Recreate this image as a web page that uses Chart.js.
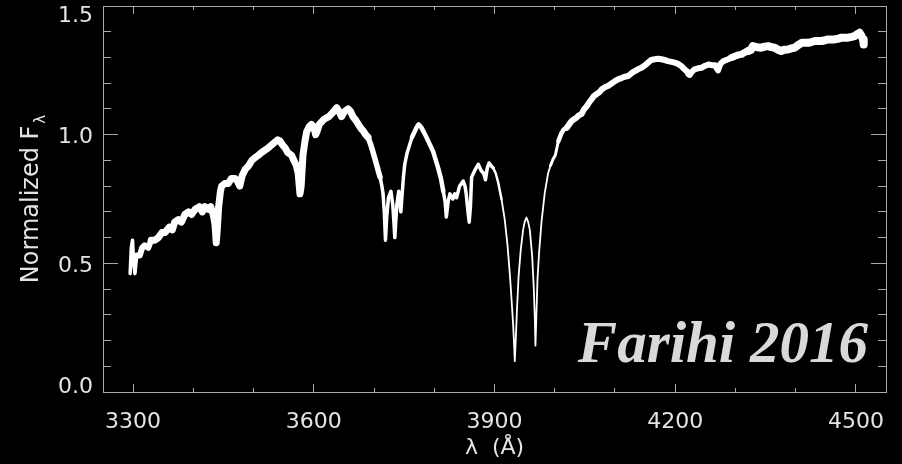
<!DOCTYPE html>
<html>
<head>
<meta charset="utf-8">
<script src="https://cdn.jsdelivr.net/npm/chart.js@4/dist/chart.umd.min.js"></script>
<style>
  html, body { margin: 0; padding: 0; background: #000; }
  canvas { display: block; }
</style>
</head>
<body>
<canvas id="spec" width="902" height="464"></canvas>
<script>
// Normalized spectrum, wavelength in Angstrom
const wavelength = [
  3295, 3297, 3299, 3301, 3303, 3306, 3311, 3315, 3319, 3325, 3330, 3336, 3342, 3348, 3353, 3360,
  3365, 3369, 3375, 3380, 3386, 3392, 3397, 3403, 3410, 3415, 3419, 3425, 3429, 3433, 3436, 3438,
  3440, 3442, 3445, 3447, 3452, 3458, 3463, 3469, 3473, 3477, 3481, 3486, 3492, 3497, 3502, 3508,
  3513, 3519, 3525, 3530, 3535, 3540, 3544, 3548, 3552, 3557, 3563, 3567, 3571, 3574, 3577, 3579,
  3582, 3585, 3588, 3592, 3596, 3600, 3603, 3605, 3609, 3613, 3617, 3621, 3625, 3629, 3633, 3638,
  3642, 3646, 3651, 3657, 3661, 3665, 3670, 3674, 3678, 3682, 3686, 3690, 3694, 3698, 3701, 3704,
  3707, 3710, 3713, 3715, 3717, 3719, 3721, 3724, 3728, 3731, 3733, 3734.5, 3736, 3738, 3741, 3744.5,
  3747, 3749, 3751, 3755, 3759, 3763, 3768, 3771, 3774, 3778, 3781.5, 3786, 3790, 3794, 3798, 3802,
  3806.5, 3811, 3815, 3818, 3820, 3823, 3826, 3831, 3834, 3837, 3842, 3848, 3851, 3853, 3856, 3858,
  3860, 3862, 3867, 3873, 3878, 3882, 3885, 3888, 3891, 3894, 3898, 3902, 3906, 3911.6, 3917, 3921.6,
  3925.4, 3928, 3931, 3932.6, 3933.7, 3935.3, 3937.5, 3940, 3943.7, 3947.5, 3950, 3953, 3956, 3958.6, 3962.5, 3965.3,
  3967, 3968, 3969.7, 3971.4, 3974, 3978, 3983.5, 3989, 3993, 3997.3, 4001, 4006, 4011, 4015, 4020, 4024,
  4028, 4032, 4036, 4040, 4044.5, 4049, 4053, 4057, 4061, 4065, 4069, 4074, 4078, 4084, 4089, 4095,
  4100, 4105, 4111, 4116, 4122, 4128, 4133, 4139, 4144, 4150, 4155, 4160, 4166, 4172, 4177, 4183,
  4188, 4194, 4199, 4205, 4210, 4215, 4219, 4222, 4224, 4228, 4232, 4238, 4243.6, 4250, 4255, 4260,
  4266, 4271, 4275, 4280, 4288, 4294, 4299, 4305, 4310, 4316, 4321, 4326, 4329, 4336, 4343, 4349,
  4354, 4360, 4365, 4371, 4376, 4381, 4387, 4393, 4398.6, 4404, 4410, 4415, 4421, 4426, 4432, 4437,
  4443, 4449, 4454, 4460, 4465, 4471, 4476, 4482, 4487, 4493, 4498, 4502, 4506, 4509, 4512, 4513
];
const flux = [
  0.46, 0.56, 0.59, 0.50, 0.46, 0.53, 0.53, 0.56, 0.57, 0.56, 0.59, 0.59, 0.60, 0.62, 0.62, 0.64,
  0.63, 0.66, 0.67, 0.66, 0.69, 0.70, 0.69, 0.71, 0.72, 0.70, 0.72, 0.71, 0.72, 0.69, 0.65, 0.58,
  0.64, 0.72, 0.78, 0.80, 0.81, 0.81, 0.83, 0.83, 0.82, 0.80, 0.84, 0.865, 0.88, 0.90, 0.91, 0.92,
  0.93, 0.94, 0.95, 0.96, 0.97, 0.98, 0.975, 0.96, 0.95, 0.93, 0.92, 0.90, 0.88, 0.85, 0.77, 0.80,
  0.92, 0.97, 1.01, 1.03, 1.04, 1.03, 1.00, 1.01, 1.04, 1.05, 1.06, 1.065, 1.07, 1.08, 1.09, 1.105,
  1.09, 1.07, 1.09, 1.10, 1.09, 1.07, 1.055, 1.04, 1.025, 1.015, 1.00, 0.99, 0.965, 0.935, 0.91, 0.885,
  0.86, 0.835, 0.80, 0.77, 0.70, 0.59, 0.68, 0.755, 0.78, 0.73, 0.66, 0.60, 0.66, 0.73, 0.78, 0.70,
  0.78, 0.84, 0.885, 0.93, 0.96, 0.99, 1.015, 1.03, 1.04, 1.03, 1.015, 0.995, 0.975, 0.955, 0.935, 0.905,
  0.87, 0.83, 0.78, 0.74, 0.68, 0.74, 0.77, 0.75, 0.77, 0.755, 0.80, 0.82, 0.80, 0.77, 0.70, 0.66,
  0.72, 0.835, 0.86, 0.885, 0.86, 0.85, 0.825, 0.87, 0.89, 0.88, 0.87, 0.85, 0.815, 0.75, 0.67, 0.57,
  0.46, 0.37, 0.26, 0.18, 0.12, 0.205, 0.33, 0.45, 0.555, 0.63, 0.66, 0.678, 0.66, 0.63, 0.53, 0.40,
  0.28, 0.18, 0.31, 0.44, 0.54, 0.66, 0.775, 0.85, 0.88, 0.905, 0.92, 0.975, 1.005, 1.02, 1.027, 1.04,
  1.053, 1.06, 1.066, 1.075, 1.08, 1.10, 1.11, 1.125, 1.137, 1.15, 1.157, 1.165, 1.176, 1.185, 1.19, 1.20,
  1.208, 1.215, 1.22, 1.225, 1.228, 1.24, 1.247, 1.255, 1.26, 1.27, 1.28, 1.29, 1.293, 1.295, 1.293, 1.29,
  1.286, 1.283, 1.28, 1.275, 1.267, 1.255, 1.247, 1.235, 1.232, 1.245, 1.254, 1.258, 1.26, 1.268, 1.273, 1.27,
  1.27, 1.25, 1.275, 1.286, 1.293, 1.30, 1.305, 1.31, 1.312, 1.32, 1.325, 1.33, 1.344, 1.34, 1.338, 1.342,
  1.344, 1.34, 1.338, 1.33, 1.325, 1.33, 1.331, 1.335, 1.338, 1.348, 1.357, 1.357, 1.357, 1.36, 1.364, 1.364,
  1.364, 1.367, 1.37, 1.37, 1.37, 1.373, 1.377, 1.377, 1.377, 1.38, 1.383, 1.39, 1.396, 1.385, 1.37, 1.35
];

// Axis ranges and tick positions
const xRange = [3250, 4550];
const yRange = [0, 1.5];
const xMajorTicks = [3300, 3600, 3900, 4200, 4500];
const xMinorTicks = [3300, 3400, 3500, 3600, 3700, 3800, 3900, 4000, 4100, 4200, 4300, 4400, 4500];
const yMajorTicks = [0.0, 0.5, 1.0, 1.5];
const yMinorTicks = [0.0, 0.1, 0.2, 0.3, 0.4, 0.5, 0.6, 0.7, 0.8, 0.9, 1.0, 1.1, 1.2, 1.3, 1.4, 1.5];

// Text
const xTitle = 'λ  (Å)';
const yTitle = 'Normalized F';
const ySubscript = 'λ';
const credit = 'Farihi 2016';

const AXIS_COLOR = '#a8a8a8';
const TEXT_COLOR = '#e4e4e4';
const FONT = 'DejaVu Sans';

// Stroke width of the trace by wavelength band: the noisy continuum is drawn as a
// broad stroke, the narrow line cores and the Ca II H & K profiles as thin ones
const strokeBands = [
  [3290, 3.5], [3306, 6], [3330, 7], [3690, 5.5], [3708, 3.5], [3760, 4.5], [3812, 3.5],
  [3898, 2.5], [3910, 1.8], [3990, 3], [4005, 4.5], [4020, 6], [4290, 7], [4320, 8]
];
function strokeFor(w) {
  let width = strokeBands[0][1];
  for (const [start, sw] of strokeBands) if (w >= start) width = sw;
  return width;
}

// One axis per side and tick class; IDL-style ticks point into the plot
function makeAxis(position, tickList, tickLen, opts = {}) {
  const vertical = position === 'left' || position === 'right';
  return Object.assign({
    type: 'linear',
    position,
    min: vertical ? yRange[0] : xRange[0],
    max: vertical ? yRange[1] : xRange[1],
    weight: opts.weight || 0,
    afterBuildTicks: (s) => { s.ticks = tickList.map(v => ({ value: v })); },
    afterFit: (s) => {
      if (s.isHorizontal()) s.height = opts.size || 0; else s.width = opts.size || 0;
      // the frame is fixed, so labels never push it inwards
      s.paddingTop = 0; s.paddingBottom = 0; s.paddingLeft = 0; s.paddingRight = 0;
    },
    border: { display: !!opts.border, color: AXIS_COLOR, width: 1 },
    grid: {
      display: true,
      drawOnChartArea: false,
      drawTicks: true,
      tickLength: -tickLen,
      color: AXIS_COLOR,
      tickColor: AXIS_COLOR,
      lineWidth: 1
    },
    ticks: { display: false }
  }, opts.extra || {});
}

const xTicksLabeled = {
  ticks: {
    display: true,
    color: TEXT_COLOR,
    padding: 25,
    maxRotation: 0,
    autoSkip: false,
    font: { family: FONT, size: 22 },
    callback: (v) => String(v)
  },
  title: {
    display: true,
    text: xTitle,
    color: TEXT_COLOR,
    font: { family: FONT, size: 22 },
    padding: { top: 0, bottom: 3 }
  }
};

// End labels on the y axis are nudged inside the frame by giving them an empty second line
const yTicksLabeled = {
  ticks: {
    display: true,
    color: TEXT_COLOR,
    padding: 25,
    labelOffset: 3,
    autoSkip: false,
    font: (c) => {
      const v = c.tick ? c.tick.value : null;
      return { family: FONT, size: 22, lineHeight: (v === yRange[0] || v === yRange[1]) ? '15px' : 1.2 };
    },
    callback: (v) => {
      const s = v.toFixed(1);
      if (v === yRange[0]) return [s, ''];
      if (v === yRange[1]) return ['', s];
      return s;
    }
  }
};

// Rotated y title with a subscript, and the credit line inside the plot
const annotations = {
  id: 'annotations',
  afterDraw(chart) {
    const { ctx, chartArea } = chart;
    ctx.save();
    const midY = (chartArea.top + chartArea.bottom) / 2;
    ctx.font = `24px "${FONT}"`;
    const wMain = ctx.measureText(yTitle).width;
    ctx.font = `15px "${FONT}"`;
    const wSub = ctx.measureText(ySubscript).width;
    const total = wMain + 2 + wSub;
    ctx.translate(38, midY + total / 2);
    ctx.rotate(-Math.PI / 2);
    ctx.fillStyle = TEXT_COLOR;
    ctx.textAlign = 'left';
    ctx.textBaseline = 'alphabetic';
    ctx.font = `24px "${FONT}"`;
    ctx.fillText(yTitle, 0, 0);
    ctx.font = `15px "${FONT}"`;
    ctx.fillText(ySubscript, wMain + 2, 7);
    ctx.restore();

    ctx.save();
    ctx.font = 'italic bold 59px "Liberation Serif"';
    ctx.fillStyle = '#d9d9d9';
    ctx.textAlign = 'right';
    ctx.textBaseline = 'alphabetic';
    ctx.fillText(credit, chartArea.right - 18, chartArea.bottom - 30);
    ctx.restore();
  }
};

const bg = {
  id: 'bg',
  beforeDraw(chart) {
    const { ctx } = chart;
    ctx.save();
    ctx.fillStyle = '#000';
    ctx.fillRect(0, 0, chart.width, chart.height);
    ctx.restore();
  }
};

new Chart(document.getElementById('spec'), {
  type: 'line',
  data: {
    datasets: [{
      data: wavelength.map((w, i) => ({ x: w, y: flux[i] })),
      borderColor: '#ffffff',
      borderWidth: 6,
      borderJoinStyle: 'round',
      borderCapStyle: 'round',
      pointRadius: 0,
      tension: 0,
      fill: false,
      segment: {
        borderWidth: (c) => strokeFor(c.p0.parsed.x)
      }
    }]
  },
  options: {
    responsive: false,
    animation: false,
    layout: { padding: 0 },
    plugins: { legend: { display: false }, tooltip: { enabled: false } },
    scales: {
      x: makeAxis('bottom', xMajorTicks, 8, { size: 72, weight: 1, border: true, extra: xTicksLabeled }),
      xMinor: makeAxis('bottom', xMinorTicks, 4, { size: 0, weight: 0 }),
      xTop: makeAxis('top', xMajorTicks, 8, { size: 6, weight: 1, border: true }),
      xTopMinor: makeAxis('top', xMinorTicks, 4, { size: 0, weight: 0 }),
      y: makeAxis('left', yMajorTicks, 15, { size: 103, weight: 1, border: true, extra: yTicksLabeled }),
      yMinor: makeAxis('left', yMinorTicks, 8, { size: 0, weight: 0 }),
      yRight: makeAxis('right', yMajorTicks, 15, { size: 16, weight: 1, border: true }),
      yRightMinor: makeAxis('right', yMinorTicks, 8, { size: 0, weight: 0 })
    }
  },
  plugins: [bg, annotations]
});
</script>
</body>
</html>
